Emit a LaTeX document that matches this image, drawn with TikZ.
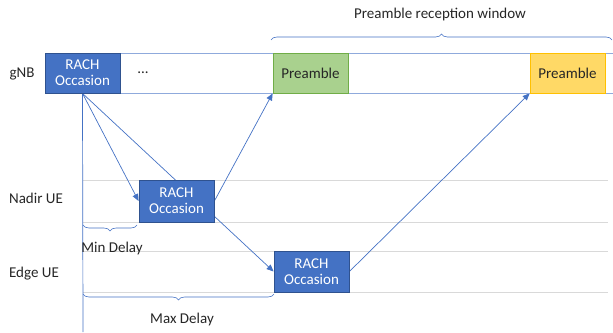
\documentclass[tikz,border=0pt]{standalone}
\usepackage{fontspec}
\setmainfont{Carlito}
\usetikzlibrary{arrows.meta,decorations.pathreplacing,backgrounds}
\definecolor{rachfill}{HTML}{4472C4}
\definecolor{rachline}{HTML}{2F528F}
\definecolor{barline}{HTML}{8FAADC}
\definecolor{greenfill}{HTML}{A9D18E}
\definecolor{greenline}{HTML}{70AD47}
\definecolor{orangefill}{HTML}{FFD966}
\definecolor{orangeline}{HTML}{FFC000}
\definecolor{gridline}{HTML}{D9D9D9}
\definecolor{txt}{HTML}{262626}
\tikzset{
  base/.style={font=\fontsize{15}{16}\selectfont},
  rachbox/.style={base,draw=rachline,fill=rachfill,text=white,line width=0.8pt,minimum width=75pt,inner sep=0pt,align=center},
  pbox/.style={base,text=txt,line width=0.8pt,minimum width=75pt,minimum height=40pt,inner sep=0pt},
  lbl/.style={base,text=txt,inner sep=0pt},
  conn/.style={draw=rachfill,line width=0.7pt},
  arr/.style={conn,-{Triangle[length=7pt,width=6pt]}},
  grid/.style={draw=gridline,line width=0.8pt},
  brc/.style={draw=rachfill,line width=0.6pt,decorate,decoration={brace,amplitude=6pt}}
}
\begin{document}
\begin{tikzpicture}[x=1pt,y=-1pt]
\useasboundingbox (0,0) rectangle (613,332);
% gNB bar
\draw[barline,line width=1pt] (613,53) -- (45,53) -- (45,93) -- (613,93);
\node[rachbox,minimum height=40pt] (gro) at (82.5,73) {RACH\\Occasion};
\node[lbl] (dots) at (143,73) {...};
\node[pbox,draw=greenline,fill=greenfill] (pg) at (310.5,73) {Preamble};
\node[pbox,draw=orangeline,fill=orangefill] (po) at (567.5,73) {Preamble};
% UE boxes
\node[rachbox,minimum height=42pt] (nadir) at (176.5,201) {RACH\\Occasion};
\node[rachbox,minimum height=41pt] (edge) at (311.5,271.5) {RACH\\Occasion};
% labels
\node[lbl] (lg) at (22,74) {gNB};
\node[lbl] (ln) at (36,198) {Nadir UE};
\node[lbl] (le) at (34,274) {Edge UE};
\node[lbl] (lw) at (440,15) {Preamble reception window};
\node[lbl] (lmin) at (112,248) {Min Delay};
\node[lbl] (lmax) at (182,319) {Max Delay};
\coordinate (vend) at (83,332);
\begin{scope}[on background layer]
\foreach \yy in {180,222,251,292} \draw[grid] (83,\yy) -- (608,\yy);
\draw[conn] (gro.south) -- (vend);
\draw[arr] (gro.south) -- (nadir.west);
\draw[arr] (gro.south) -- (edge.west);
\draw[arr] (nadir.east) -- (pg.south west);
\draw[arr] (edge.east) -- (po.south west);
\end{scope}
% braces
\draw[brc] (271,40) -- (612,40);
\draw[brc] (137,225) -- (83,225);
\draw[brc] (274,294) -- (83,294);
\end{tikzpicture}
\end{document}
